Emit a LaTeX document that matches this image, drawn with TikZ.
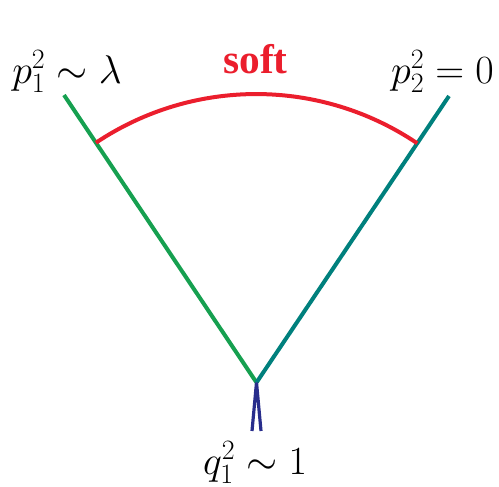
\RequirePackage{fix-cm}
\documentclass[tikz,border=0pt]{standalone}
\usepackage{fontspec}
\usetikzlibrary{calc}
\newfontfamily\softfont{Liberation Serif}
\definecolor{lgreen}{RGB}{22,160,80}
\definecolor{lteal}{RGB}{0,128,125}
\definecolor{lred}{RGB}{235,30,45}
\definecolor{lblue}{RGB}{40,45,140}
\tikzset{
  leg/.style={line width=3pt},
  lbl/.style={inner sep=0pt,font=\fontsize{30}{36}\selectfont},
}
\begin{document}
\begin{tikzpicture}[x=0.75pt,y=0.75pt,yscale=-1,xscale=1]
\useasboundingbox (0,0) rectangle (499,486);

%Coordinates
\coordinate (V) at (256.5,382.5);
\coordinate (P1) at (64,95);
\coordinate (P2) at (449,96);
\coordinate (J1) at ($(V)!0.834!(P1)$);
\coordinate (J2) at ($(V)!0.835!(P2)$);
\coordinate (Q1) at (252,431);
\coordinate (Q2) at (261,431);

%Straight Lines
\draw [leg,lgreen] (V) -- (P1) ;
%Straight Lines
\draw [leg,lteal] (V) -- (P2) ;
%Curve Lines
\draw [leg,lred] (J1) arc [start angle=236.2,end angle=304,radius=288] ;
%Straight Lines
\draw [line width=2.4pt,lblue] (Q1) -- (V) -- (Q2) ;

% Text Node
\node [lbl,anchor=base west] (p1) at (12,83) {$p_1^2\sim\lambda$};
% Text Node
\node [lbl,anchor=base east] (p2) at (494,83) {$p_2^2=0$};
% Text Node
\node [lbl,anchor=base] (q1) at (255,474) {$q_1^2\sim1$};
% Text Node
\node [inner sep=0pt,anchor=base,text=lred,font=\softfont\bfseries\fontsize{31}{36}\selectfont] (soft) at (255.5,73) {soft};

\end{tikzpicture}
\end{document}
